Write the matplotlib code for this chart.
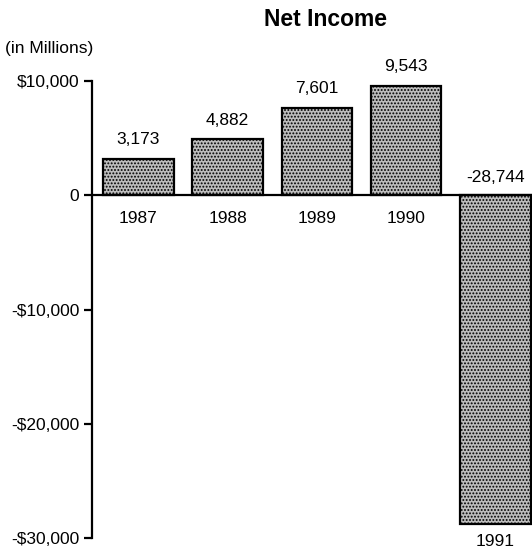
import matplotlib
matplotlib.use("Agg")
import matplotlib.pyplot as plt
import numpy as np

# Net income by year, in millions of dollars
years = ["1987", "1988", "1989", "1990", "1991"]
net_income = [3173, 4882, 7601, 9543, -28744]
y_ticks = [10000, 0, -10000, -20000, -30000]
y_tick_labels = ["$10,000", "0", "-$10,000", "-$20,000", "-$30,000"]

plt.rcParams['font.family'] = ['Liberation Sans', 'DejaVu Sans']
plt.rcParams['hatch.color'] = '#222222'
plt.rcParams['hatch.linewidth'] = 0.9

fig = plt.figure(figsize=(5.32, 5.53), dpi=100)
ax = fig.add_axes([91.7 / 532, 15 / 553, (532 - 91.7) / 532, 457 / 553])

x = np.arange(len(years))
bars = ax.bar(x, net_income, width=0.79, color='#bdbdbd', edgecolor='black',
              linewidth=1.6, hatch='.....', zorder=2)

ax.set_xlim(-0.523, 4.41)
ax.set_ylim(-30000, 10000)

# Axis styling: only the left spine, zero line drawn separately
for side in ['top', 'right', 'bottom']:
    ax.spines[side].set_visible(False)
ax.spines['left'].set_linewidth(1.6)
ax.axhline(0, color='black', linewidth=1.6, zorder=3)

ax.set_yticks(y_ticks)
ax.set_yticklabels(y_tick_labels, fontsize=12.5)
ax.tick_params(axis='y', length=6, width=1.6, pad=3)
ax.set_xticks([])

# Value labels and year labels
for xi, val, yr in zip(x, net_income, years):
    label = f"{val:,}"
    if val >= 0:
        ax.annotate(label, (xi, val), xytext=(0, 14), textcoords='offset points',
                    ha='center', va='center', fontsize=12.5)
        ax.annotate(yr, (xi, 0), xytext=(0, -16.5), textcoords='offset points',
                    ha='center', va='center', fontsize=12.5)
    else:
        ax.annotate(label, (xi, 0), xytext=(0, 13), textcoords='offset points',
                    ha='center', va='center', fontsize=12.5)
        ax.annotate(yr, (xi, val), xytext=(0, -13), textcoords='offset points',
                    ha='center', va='center', fontsize=12.5, annotation_clip=False)

fig.text(325 / 532, 1 - 20 / 553, "Net Income", ha='center', va='center',
         fontsize=16.5, fontweight='bold')
fig.text(5 / 532, 1 - 48 / 553, "(in Millions)", ha='left', va='center',
         fontsize=12.5)

fig.savefig("out.png", dpi=100)
